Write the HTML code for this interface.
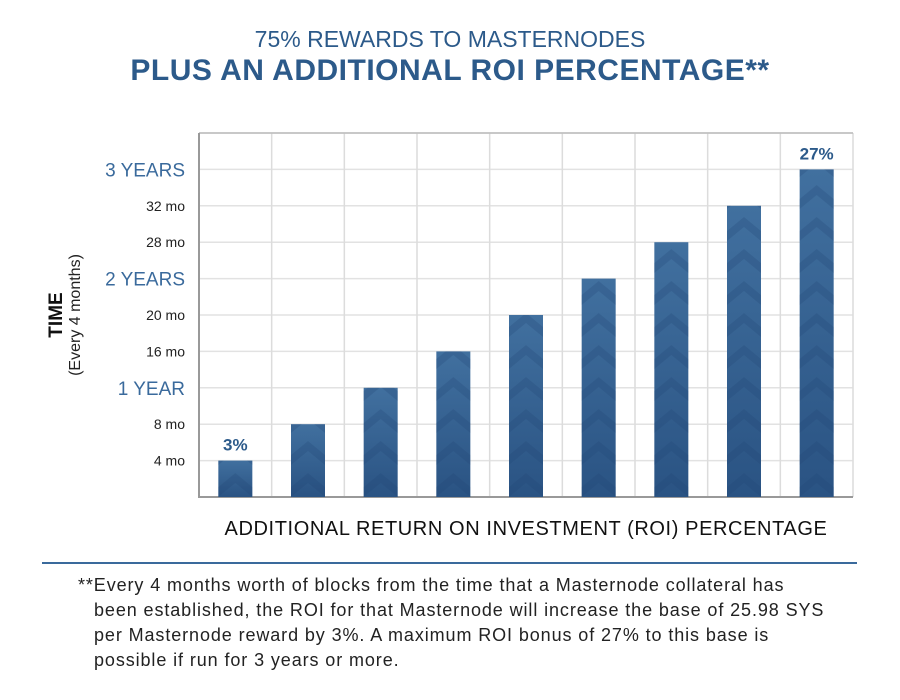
<!DOCTYPE html>
<html><head><meta charset="utf-8"><style>
body{margin:0;width:900px;height:700px;background:#fff;font-family:"Liberation Sans",sans-serif;overflow:hidden;position:relative}
.t{position:absolute;left:0;width:900px;text-align:center;color:#2c5a8a}
</style></head><body>
<div class="t" style="top:26px;font-size:23px">75% REWARDS TO MASTERNODES</div>
<div class="t" style="top:54px;font-size:30px;font-weight:bold;letter-spacing:0.5px">PLUS AN ADDITIONAL ROI PERCENTAGE**</div>
<svg id="chart" width="900" height="560" style="position:absolute;left:0;top:0">
<defs>
<linearGradient id="g" x1="0" y1="0" x2="0" y2="1"><stop offset="0" stop-color="#41709f"/><stop offset="1" stop-color="#2a5383"/></linearGradient>
<pattern id="chev" width="34" height="32" patternUnits="userSpaceOnUse" y="497">
<path d="M0 22 L17 8 L34 22 L34 32 L17 18 L0 32Z" fill="#1f4472" opacity="0.25"/>
</pattern>
</defs>
</svg>
<div style="position:absolute;left:42px;top:562px;width:815px;height:2px;background:#3a6a9c"></div>
<div style="position:absolute;left:78px;top:573px;width:800px;font-size:18px;letter-spacing:0.9px;line-height:25px;color:#222;padding-left:16px;text-indent:-16px;white-space:nowrap">**Every 4 months worth of blocks from the time that a Masternode collateral has<br>been established, the ROI for that Masternode will increase the base of 25.98 SYS<br>per Masternode reward by 3%. A maximum ROI bonus of 27% to this base is<br>possible if run for 3 years or more.</div>
<script>
const categories=["3%","6%","9%","12%","15%","18%","21%","24%","27%"];
const months=[4,8,12,16,20,24,28,32,36];
const tickValues=[4,8,12,16,20,24,28,32,36];
const tickLabels=["4 mo","8 mo","1 YEAR","16 mo","20 mo","2 YEARS","28 mo","32 mo","3 YEARS"];
const valueLabels=["3%","","","","","","","","27%"];
const NS="http://www.w3.org/2000/svg";
const svg=document.getElementById('chart');
const L=199,R=853,T=133,B=497,maxV=40;
const y=v=>B-(v/maxV)*(B-T);
const cw=(R-L)/categories.length;
const x=i=>L+cw*i+cw/2;
function mk(t,a){const e=document.createElementNS(NS,t);for(const k in a)e.setAttribute(k,a[k]);svg.appendChild(e);return e;}
for(let v=4;v<=maxV;v+=4){const l=mk('line',{x1:L,x2:R,y1:y(v),y2:y(v),stroke:'#e2e2e2','stroke-width':1.5});

}
for(let i=1;i<=categories.length;i++){const l=mk('line',{x1:L+cw*i,x2:L+cw*i,y1:T,y2:B,stroke:'#dcdcdc','stroke-width':1.5});

}
const topBorder=mk('line',{x1:L,x2:R,y1:T,y2:T,stroke:'#bbb','stroke-width':1.5});


const ax=mk('path',{d:`M${L} ${T}V${B}H${R}`,fill:'none',stroke:'#999','stroke-width':2});


months.forEach((m,i)=>{
 const bw=34,bx=x(i)-bw/2,by=y(m);
 const b=mk('rect',{x:bx,y:by,width:bw,height:B-by,fill:'url(#g)'});
 
 
 const p=mk('rect',{x:0,y:by,width:bw,height:B-by,fill:'url(#chev)',transform:`translate(${bx},0)`});
 
 
 if(valueLabels[i]){const t=mk('text',{x:x(i),y:by-10,'text-anchor':'middle','font-size':17,'font-weight':'bold',fill:'#2c5a8a'});t.textContent=valueLabels[i];
 
 }
});
tickValues.forEach((v,i)=>{
 const big=tickLabels[i].indexOf('YEAR')>=0;
 const t=mk('text',{x:185,y:y(v)+(big?7:5),'text-anchor':'end','font-size':big?19:14,fill:big?'#3a6a9c':'#222'});
 t.textContent=tickLabels[i];
 
 
});
const yt=mk('text',{transform:'translate(62,315) rotate(-90)','text-anchor':'middle','font-size':19,'font-weight':'bold',fill:'#111'});yt.textContent='TIME';


const ys=mk('text',{transform:'translate(80,315) rotate(-90)','text-anchor':'middle','font-size':16,fill:'#222'});ys.textContent='(Every 4 months)';


const xt=mk('text',{x:526,y:535,'text-anchor':'middle','font-size':20,'letter-spacing':0.6,fill:'#111'});xt.textContent='ADDITIONAL RETURN ON INVESTMENT (ROI) PERCENTAGE';


</script>
</body></html>
